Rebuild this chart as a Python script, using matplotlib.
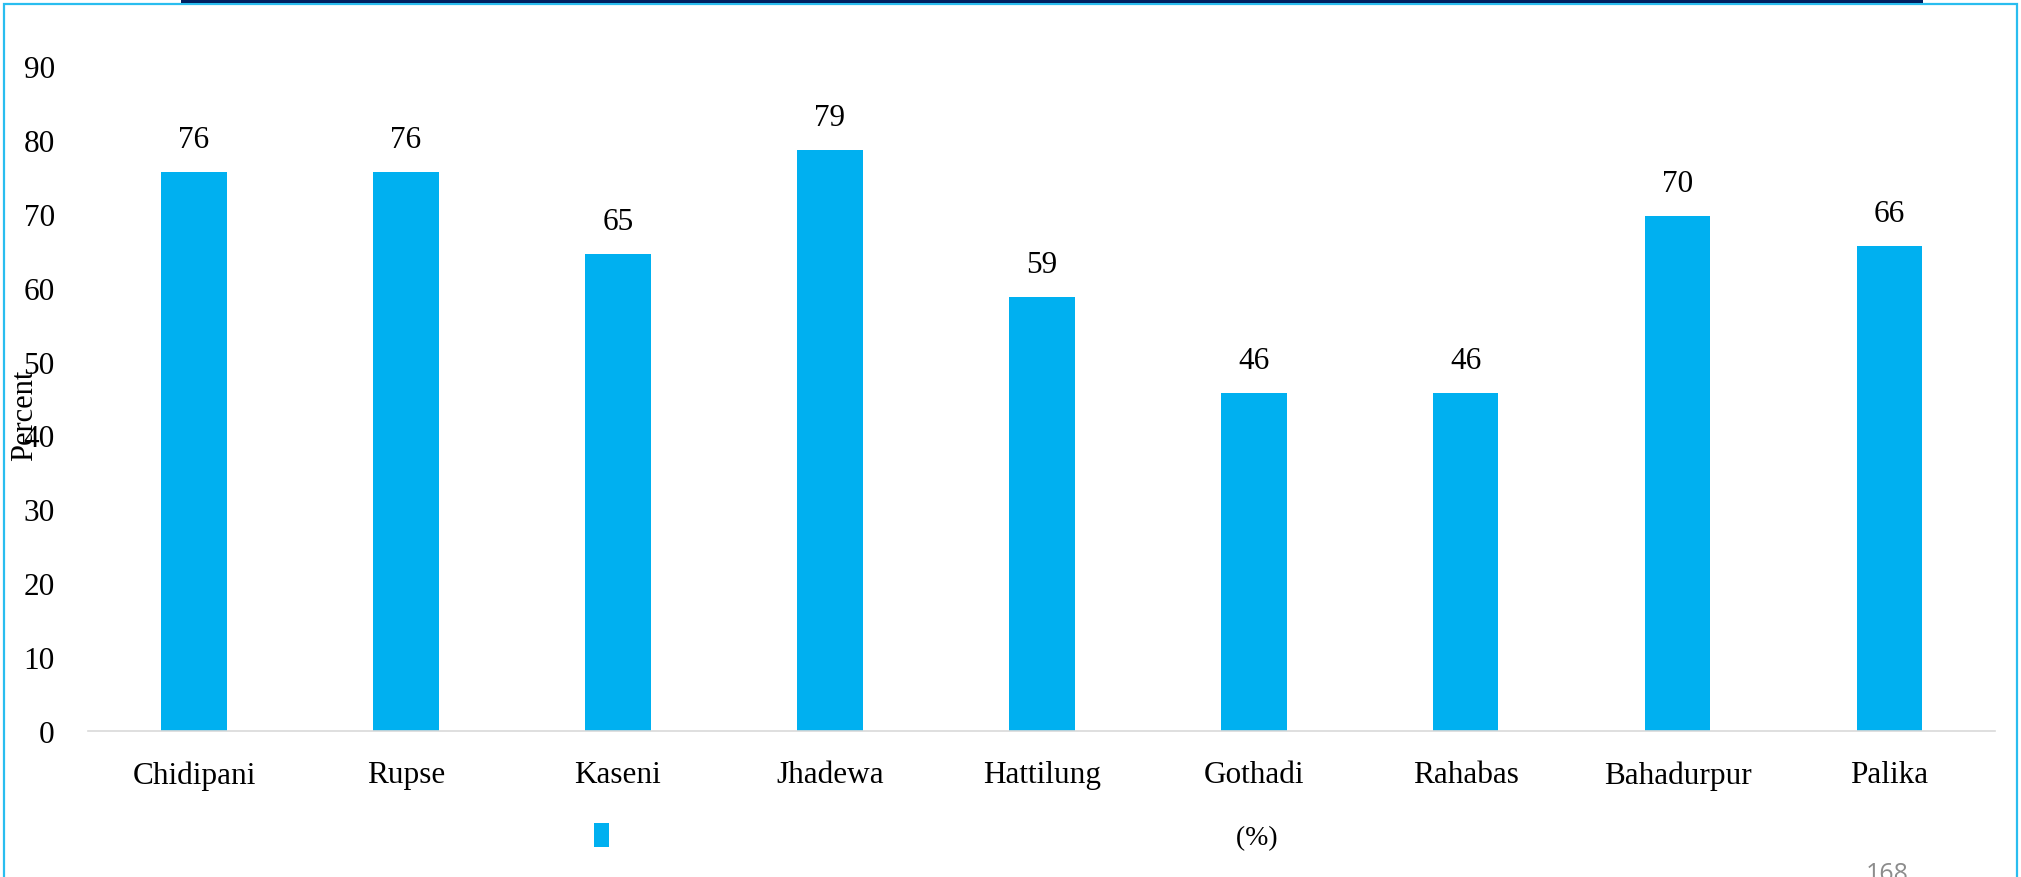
import matplotlib
matplotlib.use('Agg')
import matplotlib.pyplot as plt
import matplotlib.patches as patches

plt.rcParams['font.family'] = ['Liberation Serif', 'DejaVu Sans']

places = ['Chidipani', 'Rupse', 'Kaseni', 'Jhadewa', 'Hattilung',
          'Gothadi', 'Rahabas', 'Bahadurpur', 'Palika']
pct_iron = [75.6, 75.6, 64.6, 78.6, 58.7, 45.7, 45.7, 69.7, 65.6]
series_lab = '१८० आईरन पाएका गर्भवति महिलाहरु (%)'
yticks = list(range(0, 100, 10))

W, H = 2021, 878
fig = plt.figure(figsize=(W / 100, H / 100), dpi=100)

# light blue frame and navy title band at the top edge
fig.patches.append(patches.Rectangle((3.5 / W, -0.05), 2013 / W, 1.05 - 5 / H,
                                     transform=fig.transFigure, fill=False,
                                     edgecolor='#29BDEF', linewidth=1.6))
fig.patches.append(patches.Rectangle((181 / W, 1 - 4 / H), (1923 - 181) / W, 4 / H,
                                     transform=fig.transFigure, facecolor='#002060',
                                     edgecolor='none'))

ax = fig.add_axes([88 / W, 1 - 732 / H, (1995.5 - 88) / W, (732 - 67) / H])
x = range(len(places))
bars = ax.bar(x, pct_iron, width=0.31, color='#00B0F0', label=series_lab)
for b, v in zip(bars, pct_iron):
    ax.text(b.get_x() + b.get_width() / 2, v + 4.4, '%.0f' % v,
            ha='center', va='center', fontsize=22.5)

ax.set_xlim(-0.5, len(places) - 0.5)
ax.set_ylim(0, 90)
ax.set_yticks(yticks)
ax.set_xticks(list(x))
ax.set_xticklabels(places)
ax.tick_params(axis='both', length=0, labelsize=22.5)
ax.tick_params(axis='y', pad=24)
ax.tick_params(axis='x', pad=21)
for s in ['top', 'right', 'left']:
    ax.spines[s].set_visible(False)
ax.spines['bottom'].set_color('#d9d9d9')
ax.spines['bottom'].set_linewidth(1.2)

fig.text(25 / W, 1 - 415 / H, 'Percent', rotation=90, ha='center', va='center',
         fontsize=22)

leg = fig.legend(loc='center', bbox_to_anchor=(936 / W, 1 - 838 / H), frameon=False,
                 fontsize=20, handlelength=0.55, handleheight=0.9, handletextpad=0.3)

fig.text(1887 / W, 1 - 862 / H, '168', ha='center', va='top', fontsize=18,
         color='#8c8c8c', family=['Open Sans', 'DejaVu Sans'])

fig.savefig('out.png', dpi=100)
